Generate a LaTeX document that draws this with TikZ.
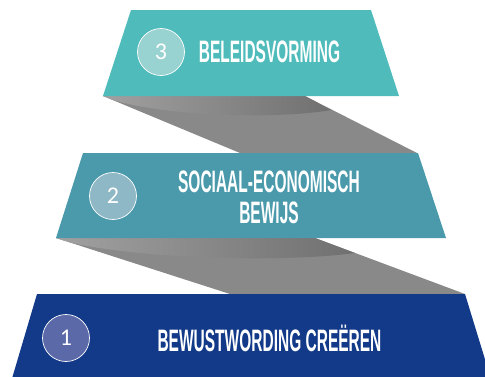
\documentclass[tikz,border=0pt]{standalone}
\usepackage{fontspec}
\setmainfont{Liberation Sans}
\newfontfamily\stepfont[FakeStretch=0.5]{Liberation Sans}
\newfontfamily\numfont{Carlito}
\definecolor{tealtop}{HTML}{4FBBBB}
\definecolor{tealmid}{HTML}{4A9AAB}
\definecolor{bluebot}{HTML}{123A88}
\definecolor{circtop}{HTML}{99D3D1}
\definecolor{circmid}{HTML}{8EB8C5}
\definecolor{circbot}{HTML}{5C69A9}
\definecolor{shadelight}{HTML}{898989}
\definecolor{shadedark}{HTML}{707070}
\begin{document}
\begin{tikzpicture}[x=1pt,y=-1pt,
    numcircle/.style={circle,draw=white,line width=0.7pt,minimum size=47pt,inner sep=0pt,
        text=white,font=\numfont\fontsize{24}{24}\selectfont},
    steptext/.style={text=white,align=center,
        font=\stepfont\bfseries\fontsize{31}{31}\selectfont},
    band/.style={fill=shadelight},
    bandtop/.style={left color=shadelight!80!white,right color=shadedark,shading angle=90}]
    \useasboundingbox (0,0) rectangle (485,376);
    \clip (0,0) rectangle (485,376);
    \fill[band] (103,96) -- (305,96) -- (417,153) -- (240,153) -- cycle;
    \shade[bandtop] (103,96) -- (305,96) -- (331,110)
        .. controls (280,119) and (170,117) .. (113,100) -- cycle;
    \fill[band] (56,238) -- (315,238) -- (465,294) -- (230,294) -- cycle;
    \shade[bandtop] (56,238) -- (315,238) -- (355,253)
        .. controls (290,262) and (150,260) .. (72,243) -- cycle;
    \fill[tealtop] (131,10) -- (371,10) -- (399,96) -- (103,96) -- cycle;
    \fill[tealmid] (83,153) -- (418,153) -- (446,238) -- (56,238) -- cycle;
    \fill[bluebot] (37,294) -- (465,294) -- (495,392) -- (8,392) -- cycle;
    \node[numcircle,fill=circtop] (num3) at (161,52) {3};
    \node[numcircle,fill=circmid] (num2) at (113,196) {2};
    \node[numcircle,fill=circbot] (num1) at (66,338) {1};
    \node[steptext] (step3) at (269.5,52) {BELEIDSVORMING};
    \node[steptext] (step2) at (269,197.5) {SOCIAAL-ECONOMISCH\\BEWIJS};
    \node[steptext] (step1) at (269.5,338) {BEWUSTWORDING CREËREN};
\end{tikzpicture}
\end{document}
